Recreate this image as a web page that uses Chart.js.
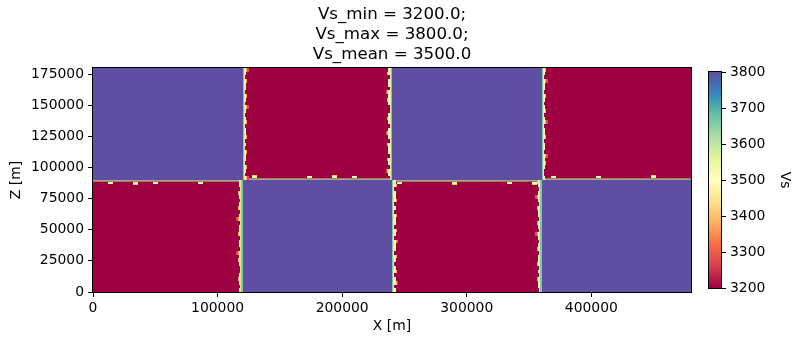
<!DOCTYPE html>
<html>
<head>
<meta charset="utf-8">
<script src="https://cdn.jsdelivr.net/npm/chart.js@4.4.1/dist/chart.umd.min.js"></script>
<style>
  html, body { margin: 0; padding: 0; background: #fff; }
  #wrap { position: relative; width: 796px; height: 345px; }
  #fieldBox { position: absolute; left: 0; top: 0; width: 796px; height: 345px; }
  #barBox { position: absolute; left: 690px; top: 0; width: 106px; height: 345px; }
</style>
</head>
<body>
<div id="wrap">
  <div id="fieldBox"><canvas id="field"></canvas></div>
  <div id="barBox"><canvas id="cbar"></canvas></div>
</div>
<script>
// block model: edges in metres, Vs of each block column (lower row / upper row)
const xEdges = [0, 120000, 240000, 360000, 480000];
const zEdges = [0, 90000, 180000];
const vsLower = [3200, 3800, 3200, 3800];
const vsUpper = [3800, 3200, 3800, 3200];

// smeared cells along the interfaces, listed from the fast side outwards
const rampVert = [3660, 3570, 3480, 3380, 3280];
const rampHorz = [3680, 3300, 3520, 3420];
// smeared cell count per 3 km depth row on the vertical interfaces
const vertWidths = [3, 2, 4, 3, 2, 3, 5, 2, 3, 4, 2, 3, 3, 4, 2, 3, 5, 3, 2, 3,
                    4, 3, 2, 2, 3, 4, 3, 5, 2, 3, 3, 2, 4, 3, 3, 2, 5, 3, 2, 4,
                    3, 2, 3, 4, 2, 3, 3, 5, 2, 3, 4, 2, 3, 3, 4, 2, 3, 2, 4, 3];
// smeared cell count per 4 km along the horizontal interface
const horzWidths = [2, 2, 2, 3, 2, 2, 2, 2, 4, 2, 2, 2, 3, 2, 2, 2, 2, 2, 2, 2,
                    2, 3, 2, 2, 2, 2, 2, 2, 2, 2, 2, 2, 4, 2, 2, 2, 2, 2, 2, 2];

const cellSize = 1000;
const vsMin = 3200;
const vsMax = 3800;
const vsMean = 3500;
const xTicks = [0, 100000, 200000, 300000, 400000];
const zTicks = [0, 25000, 50000, 75000, 100000, 125000, 150000, 175000];
const cbarTicks = [3200, 3300, 3400, 3500, 3600, 3700, 3800];

const spectral = ['#9e0142', '#d53e4f', '#f46d43', '#fdae61', '#fee08b', '#ffffbf',
                  '#e6f598', '#abdda4', '#66c2a5', '#3288bd', '#5e4fa2'];

const hexRgb = h => [1, 3, 5].map(i => parseInt(h.substr(i, 2), 16));

const vsColor = v => {
    let t = (v - vsMin) / (vsMax - vsMin) * (spectral.length - 1);
    t = Math.max(0, Math.min(spectral.length - 1, t));
    const i = Math.min(Math.floor(t), spectral.length - 2);
    const f = t - i;
    const a = hexRgb(spectral[i]), b = hexRgb(spectral[i + 1]);
    const c = a.map((ch, k) => Math.round(ch + (b[k] - ch) * f));
    return `rgb(${c[0]},${c[1]},${c[2]})`;
};

Chart.defaults.font.family = "'DejaVu Sans', sans-serif";
Chart.defaults.font.size = 13.9;
Chart.defaults.color = '#000';

const fieldPlugin = {
    id: 'fieldPlugin',
    beforeDatasetsDraw(chart) {
        const {ctx, chartArea, scales: {x, y}} = chart;
        const cell = (x0, x1, z0, z1, v) => {
            const a = Math.round(x.getPixelForValue(x0));
            const b = Math.round(x.getPixelForValue(x1));
            const top = Math.round(y.getPixelForValue(z1));
            const bot = Math.round(y.getPixelForValue(z0));
            ctx.fillStyle = vsColor(v);
            ctx.fillRect(Math.min(a, b), top, Math.abs(b - a), bot - top);
        };
        ctx.save();
        ctx.beginPath();
        ctx.rect(chartArea.left, chartArea.top, chartArea.width, chartArea.height);
        ctx.clip();

        for (let i = 0; i < vsLower.length; i++) {
            cell(xEdges[i], xEdges[i + 1], zEdges[0], zEdges[1], vsLower[i]);
            cell(xEdges[i], xEdges[i + 1], zEdges[1], zEdges[2], vsUpper[i]);
        }

        // horizontal interface
        const zi = zEdges[1];
        const segH = 4000;
        for (let s = 0; s * segH < xEdges[xEdges.length - 1]; s++) {
            const xa = s * segH, xb = xa + segH;
            const col = xEdges.findIndex(e => e > xa) - 1;
            const upFast = vsUpper[col] > vsLower[col];
            const n = horzWidths[s % horzWidths.length];
            for (let k = 0; k < n; k++) {
                if (upFast) cell(xa, xb, zi - (k + 1) * cellSize, zi - k * cellSize, rampHorz[k]);
                else cell(xa, xb, zi + k * cellSize, zi + (k + 1) * cellSize, rampHorz[k]);
            }
        }

        // vertical interfaces
        const segV = 3000;
        for (let i = 1; i < xEdges.length - 1; i++) {
            const xi = xEdges[i];
            for (let r = 0; r * segV < zEdges[2]; r++) {
                const za = r * segV, zb = za + segV;
                const leftVs = za < zi ? vsLower[i - 1] : vsUpper[i - 1];
                const rightVs = za < zi ? vsLower[i] : vsUpper[i];
                const n = vertWidths[(r + i * 17) % vertWidths.length];
                for (let k = 0; k < n; k++) {
                    if (leftVs > rightVs) cell(xi + k * cellSize, xi + (k + 1) * cellSize, za, zb, rampVert[k]);
                    else cell(xi - (k + 1) * cellSize, xi - k * cellSize, za, zb, rampVert[k]);
                }
            }
        }
        ctx.restore();
    },
    afterDraw(chart) {
        const {ctx, chartArea} = chart;
        ctx.save();
        ctx.strokeStyle = '#000';
        ctx.lineWidth = 1;
        ctx.strokeRect(chartArea.left - 0.5, chartArea.top - 0.5, chartArea.width + 1, chartArea.height + 1);

        const lines = [
            `Vs_min = ${vsMin.toFixed(1)};`,
            `Vs_max = ${vsMax.toFixed(1)};`,
            `Vs_mean = ${vsMean.toFixed(1)}`
        ];
        ctx.font = "16.67px 'DejaVu Sans'";
        ctx.fillStyle = '#000';
        ctx.textAlign = 'center';
        ctx.textBaseline = 'alphabetic';
        const cx = (chartArea.left + chartArea.right) / 2;
        lines.forEach((t, i) => ctx.fillText(t, cx, 18.5 + i * 20));
        ctx.restore();
    }
};

const fieldChart = new Chart(document.getElementById('field'), {
    type: 'scatter',
    data: { datasets: [{ data: [] }] },
    options: {
        responsive: true,
        maintainAspectRatio: false,
        animation: false,
        layout: { padding: { left: 0, top: 68, right: 105, bottom: 0 } },
        plugins: { legend: { display: false }, tooltip: { enabled: false } },
        scales: {
            x: {
                type: 'linear', min: xEdges[0], max: xEdges[xEdges.length - 1],
                afterBuildTicks: s => { s.ticks = xTicks.map(v => ({ value: v })); },
                ticks: { maxRotation: 0, autoSkip: false, padding: 3, callback: v => String(v) },
                grid: { drawOnChartArea: false, tickLength: 5, color: '#000' },
                border: { display: true, color: '#000' },
                title: { display: true, text: 'X [m]', padding: { top: 0, bottom: 10 } },
                afterFit: s => { s.height = 53; }
            },
            y: {
                type: 'linear', min: zEdges[0], max: zEdges[zEdges.length - 1],
                afterBuildTicks: s => { s.ticks = zTicks.map(v => ({ value: v })); },
                ticks: { autoSkip: false, padding: 4, callback: v => String(v) },
                grid: { drawOnChartArea: false, tickLength: 5, color: '#000' },
                border: { display: true, color: '#000' },
                title: { display: true, text: 'Z [m]', padding: { top: 8, bottom: 0 } },
                afterFit: s => { s.width = 93; }
            }
        }
    },
    plugins: [fieldPlugin]
});

const barGradient = chart => {
    const area = chart.chartArea;
    if (!area) return spectral[5];
    const y = chart.scales.y;
    const g = chart.ctx.createLinearGradient(0, y.getPixelForValue(vsMin), 0, y.getPixelForValue(vsMax));
    spectral.forEach((c, i) => g.addColorStop(i / (spectral.length - 1), c));
    return g;
};

const outlinePlugin = {
    id: 'outlinePlugin',
    afterDraw(chart) {
        const {ctx, chartArea} = chart;
        ctx.save();
        ctx.strokeStyle = '#000';
        ctx.lineWidth = 1;
        ctx.strokeRect(chartArea.left - 0.5, chartArea.top - 0.5, chartArea.width + 1, chartArea.height + 1);
        ctx.restore();
    }
};

const cbarChart = new Chart(document.getElementById('cbar'), {
    type: 'bar',
    data: {
        labels: ['Vs'],
        datasets: [{
            data: [[vsMin, vsMax]],
            backgroundColor: ctx => barGradient(ctx.chart),
            borderWidth: 0,
            barPercentage: 1,
            categoryPercentage: 1
        }]
    },
    options: {
        responsive: true,
        maintainAspectRatio: false,
        animation: false,
        layout: { padding: { left: 19, top: 72, right: 0, bottom: 57 } },
        plugins: { legend: { display: false }, tooltip: { enabled: false } },
        scales: {
            x: { display: false },
            y: {
                position: 'right', min: vsMin, max: vsMax,
                afterBuildTicks: s => { s.ticks = cbarTicks.map(v => ({ value: v })); },
                ticks: { padding: 4, autoSkip: false, callback: v => String(v) },
                grid: { drawOnChartArea: false, tickLength: 5, color: '#000' },
                border: { display: false },
                title: { display: true, text: 'Vs', padding: { top: 3.5, bottom: 0 } },
                afterFit: s => { s.width = 75; }
            }
        }
    },
    plugins: [outlinePlugin]
});
</script>
</body>
</html>
